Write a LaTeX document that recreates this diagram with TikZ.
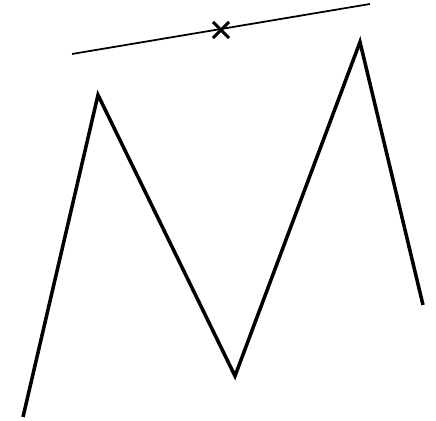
\documentclass[tikz,border=0pt]{standalone}
\usetikzlibrary{shapes.misc}
\tikzset{
  zigzag/.style={line width=2pt, line join=miter},
  axisline/.style={line width=1pt},
  mark cross/.style={cross out, draw, line width=1.8pt, minimum size=0.26cm, inner sep=0pt}
}
\begin{document}
\begin{tikzpicture}[x=0.02cm, y=-0.02cm]
  \useasboundingbox (0,0) rectangle (436,421);

  %--- Zigzag ---
  \coordinate (p0) at (23,417);
  \coordinate (p1) at (98,95);
  \coordinate (p2) at (235,376);
  \coordinate (p3) at (360,42);
  \coordinate (p4) at (423,305);
  \draw[zigzag] (p0) -- (p1) -- (p2) -- (p3) -- (p4);

  %--- Line with mark ---
  \coordinate (l0) at (72,54);
  \coordinate (l1) at (370,4);
  \draw[axisline] (l0) -- (l1);
  \node[mark cross] (x) at (221,30) {};
\end{tikzpicture}
\end{document}
